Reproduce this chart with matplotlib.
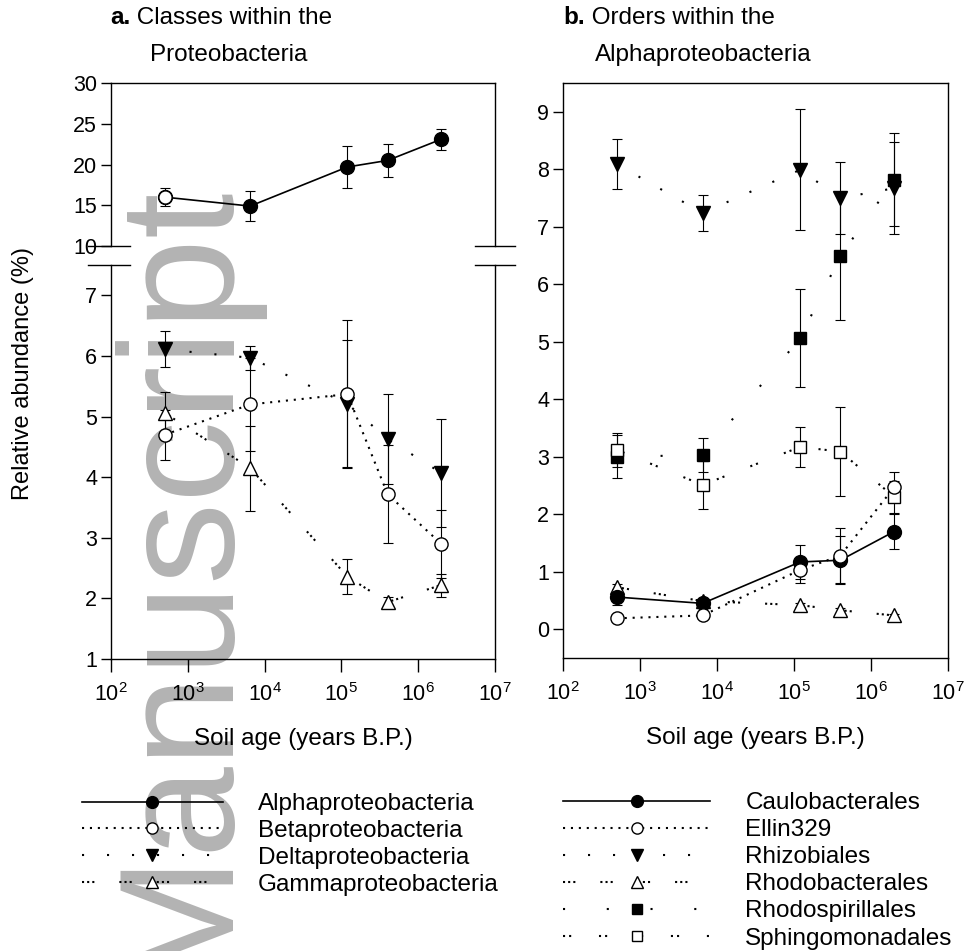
import matplotlib
matplotlib.use("Agg")
import matplotlib.pyplot as plt
from matplotlib.ticker import LogLocator, LogFormatterSciNotation, NullLocator

plt.rcParams['font.family'] = ['Liberation Sans', 'DejaVu Sans']
plt.rcParams['mathtext.fontset'] = 'custom'
plt.rcParams['mathtext.rm'] = 'Liberation Sans'
plt.rcParams['lines.scale_dashes'] = False

# soil ages of the chronosequence (years B.P.)
age = [500, 6500, 120000, 400000, 2000000]

# a. classes within the Proteobacteria (%)
alpha = [16.0, 14.9, 19.7, 20.5, 23.1]
alpha_err = [1.1, 1.8, 2.55, 2.05, 1.3]
beta = [4.70, 5.20, 5.37, 3.72, 2.90]
beta_err = [0.41, 0.76, 1.22, 0.81, 0.56]
delta = [6.11, 5.97, 5.21, 4.63, 4.07]
delta_err = [0.30, 0.20, 1.05, 0.75, 0.89]
gamma = [5.06, 4.15, 2.36, 1.94, 2.22]
gamma_err = [0.35, 0.70, 0.29, 0.08, 0.19]

# b. orders within the Alphaproteobacteria (%)
caulo = [0.56, 0.45, 1.17, 1.20, 1.70]
caulo_err = [0.14, 0.08, 0.30, 0.42, 0.31]
ellin = [0.19, 0.24, 1.03, 1.28, 2.47]
ellin_err = [0.05, 0.05, 0.23, 0.48, 0.26]
rhizo = [8.09, 7.24, 7.99, 7.50, 7.67]
rhizo_err = [0.44, 0.32, 1.05, 0.63, 0.80]
rhodob = [0.73, 0.49, 0.42, 0.33, 0.24]
rhodob_err = [0.06, 0.05, 0.04, 0.04, 0.03]
rhodosp = [3.00, 3.03, 5.06, 6.49, 7.82]
rhodosp_err = [0.37, 0.29, 0.85, 1.11, 0.81]
sphingo = [3.12, 2.51, 3.17, 3.09, 2.30]
sphingo_err = [0.29, 0.41, 0.34, 0.78, 0.28]

a_labels = ['Alphaproteobacteria', 'Betaproteobacteria',
            'Deltaproteobacteria', 'Gammaproteobacteria']
b_labels = ['Caulobacterales', 'Ellin329', 'Rhizobiales',
            'Rhodobacterales', 'Rhodospirillales', 'Sphingomonadales']

# line styles (dash lengths in points, not scaled by width)
SOLID = '-'
DOTTED = (0, (1.5, 4.2))
SPARSE = (0, (1.5, 16.5))
TRIPLE = (0, (1.5, 2.2, 1.5, 2.2, 1.5, 18))
LONEDOT = (0, (1.5, 30))
DOUBLE = (0, (1.5, 2.9, 1.5, 20))

FS = 17.5
TICKFS = 15.5

fig = plt.figure(figsize=(9.64, 9.51), dpi=100)

# watermark behind everything
fig.text(255 / 964, 1 - 178 / 951, 'Manuscript', rotation=90, fontsize=118,
         color='#b3b3b3', ha='right', va='top', zorder=-5)

ax_top = fig.add_axes([0.1151, 0.7413, 0.3983, 0.1714])
ax_low = fig.add_axes([0.1151, 0.3070, 0.3983, 0.4143])
ax_b = fig.add_axes([0.5840, 0.3081, 0.3994, 0.6046])


def style(ax):
    ax.set_facecolor('none')
    ax.set_xscale('log')
    ax.set_xlim(1e2, 1e7)
    ax.xaxis.set_major_locator(LogLocator(base=10, numticks=10))
    ax.xaxis.set_major_formatter(LogFormatterSciNotation())
    ax.xaxis.set_minor_locator(NullLocator())
    ax.tick_params(axis='y', direction='out', length=7, width=1,
                   labelsize=TICKFS, pad=3)
    ax.tick_params(axis='x', direction='out', length=9, width=1,
                   labelsize=TICKFS, pad=8)
    for s in ax.spines.values():
        s.set_linewidth(1)


def series(ax, y, err, ls, marker, mfc, ms, lw=1.5):
    ax.errorbar(age, y, yerr=err, fmt='none', ecolor='black', elinewidth=0.8,
                capsize=3.6, capthick=0.8, zorder=2)
    line, = ax.plot(age, y, color='black', ls=ls, lw=lw, marker=marker,
                    ms=ms, mfc=mfc, mec='black', mew=1.0, zorder=3,
                    dash_capstyle='butt')
    return line


for ax in (ax_top, ax_low, ax_b):
    style(ax)

# panel a, upper part
ax_top.set_ylim(10, 30)
ax_top.set_yticks([10, 15, 20, 25, 30])
ax_top.spines['bottom'].set_visible(False)
ax_top.tick_params(axis='x', bottom=False, labelbottom=False)
h_alpha = series(ax_top, alpha, alpha_err, SOLID, 'o', 'black', 10, lw=1.2)
ax_top.plot(age[:1], alpha[:1], ls='none', marker='o', ms=9.5,
            mfc='white', mec='black', mew=1.0, zorder=4)

# panel a, lower part
ax_low.set_ylim(1, 7.5)
ax_low.set_yticks([1, 2, 3, 4, 5, 6, 7])
ax_low.spines['top'].set_visible(False)
h_delta = series(ax_low, delta, delta_err, SPARSE, 'v', 'black', 10)
h_gamma = series(ax_low, gamma, gamma_err, TRIPLE, '^', 'white', 10)
h_beta = series(ax_low, beta, beta_err, DOTTED, 'o', 'white', 9.5)

# break marks
for ax, yy in ((ax_top, 0), (ax_low, 1)):
    ax.plot([-0.06, 0.05], [yy, yy], color='black', lw=1,
            transform=ax.transAxes, clip_on=False)
    ax.plot([0.948, 1.052], [yy, yy], color='black', lw=1,
            transform=ax.transAxes, clip_on=False)

# panel b
ax_b.set_ylim(-0.5, 9.5)
ax_b.set_yticks(range(0, 10))
h_rhizo = series(ax_b, rhizo, rhizo_err, SPARSE, 'v', 'black', 10)
h_rhodosp = series(ax_b, rhodosp, rhodosp_err, LONEDOT, 's', 'black', 8)
h_sphingo = series(ax_b, sphingo, sphingo_err, DOUBLE, 's', 'white', 8)
h_rhodob = series(ax_b, rhodob, rhodob_err, TRIPLE, '^', 'white', 10)
h_caulo = series(ax_b, caulo, caulo_err, SOLID, 'o', 'black', 10, lw=1.2)
h_ellin = series(ax_b, ellin, ellin_err, DOTTED, 'o', 'white', 9.5)

ax_low.set_xlabel('Soil age (years B.P.)', fontsize=FS, labelpad=16)
ax_b.set_xlabel('Soil age (years B.P.)', fontsize=FS, labelpad=16)
fig.text(23 / 964, 1 - 373 / 951, 'Relative abundance (%)', rotation=90,
         fontsize=17, ha='center', va='center')

# panel titles
for x1, x2, tag, line1, line2 in (
        (110, 150, 'a.', ' Classes within the', 'Proteobacteria'),
        (563, 595, 'b.', ' Orders within the', 'Alphaproteobacteria')):
    t = fig.text(x1 / 964, 1 - 18 / 951, tag, fontsize=17.5, weight='bold',
                 ha='left', va='center')
    ax_b.annotate(line1, xy=(1, 0.5), xycoords=t, fontsize=17.5,
                  ha='left', va='center', annotation_clip=False)
    fig.text(x2 / 964, 1 - 55 / 951, line2, fontsize=17.5,
             ha='left', va='center')

# legends
fig.legend([h_alpha, h_beta, h_delta, h_gamma], a_labels,
           loc='upper left', bbox_to_anchor=(82 / 964, 1 - 793 / 951),
           frameon=False, fontsize=FS, handlelength=5.8, handletextpad=1.45,
           labelspacing=0.2, borderpad=0, borderaxespad=0, numpoints=1,
           markerscale=0.85)
fig.legend([h_caulo, h_ellin, h_rhizo, h_rhodob, h_rhodosp, h_sphingo],
           b_labels, loc='upper left',
           bbox_to_anchor=(563 / 964, 1 - 792 / 951),
           frameon=False, fontsize=FS, handlelength=6.05, handletextpad=1.45,
           labelspacing=0.21, borderpad=0, borderaxespad=0, numpoints=1,
           markerscale=0.85)

fig.savefig('out.png', dpi=100)
